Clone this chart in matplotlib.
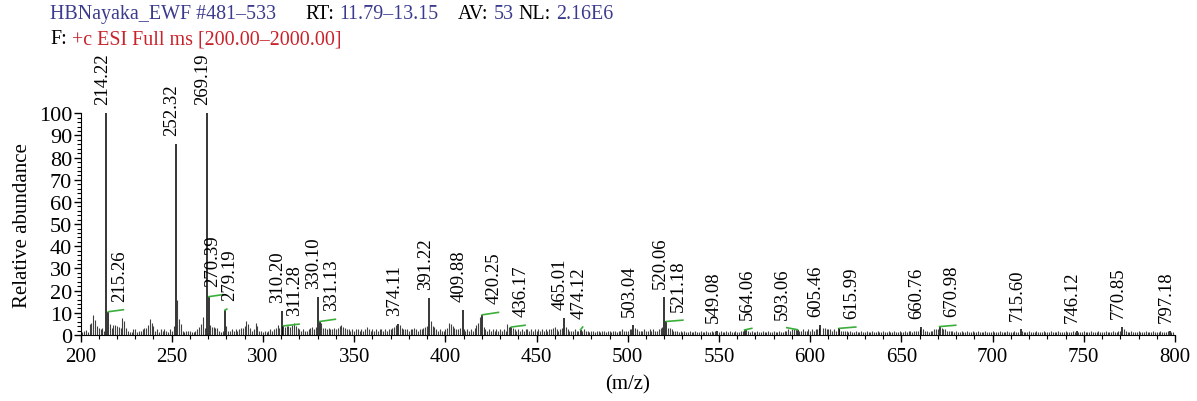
import numpy as np
import matplotlib
matplotlib.use('Agg')
import matplotlib.pyplot as plt
from matplotlib.ticker import MultipleLocator

plt.rcParams['font.family'] = ['Liberation Serif', 'DejaVu Serif']

# labelled peaks (m/z, relative abundance)
label_mz = [214.22, 215.26, 252.32, 269.19, 270.39, 279.19, 310.20, 311.28, 330.10, 331.13,
            374.11, 391.22, 409.88, 420.25, 436.17, 465.01, 474.12, 503.04, 520.06, 521.18,
            549.08, 564.06, 593.06, 605.46, 615.99, 660.76, 670.98, 715.60, 746.12, 770.85, 797.18]
label_int = [100, 10.5, 86, 100, 17.3, 11.2, 10.9, 4.1, 17.0, 6.1,
             4.9, 16.7, 11.2, 9.1, 3.6, 7.5, 2.4, 4.7, 17.0, 6.1,
             1.8, 2.3, 2.4, 4.5, 3.0, 3.8, 3.8, 2.6, 1.6, 3.6, 2.0]

# green leader lines: end point of the leader for labels that were moved (nan = none)
nan = np.nan
leader_mz = [nan, 223.5, nan, nan, 278.0, 280.2, nan, 319.8, nan, 339.7,
             nan, nan, nan, 429.1, 443.7, nan, 475.3, nan, nan, 530.2,
             nan, 568.0, 587.2, nan, 625.0, nan, 679.8, nan, nan, nan, nan]
leader_int = [nan, 11.4, nan, nan, 18.2, 11.7, nan, 4.9, nan, 7.1,
              nan, nan, nan, 10.2, 4.4, nan, 3.6, nan, nan, 6.7,
              nan, 3.0, 3.3, nan, 3.6, nan, 4.4, nan, nan, nan, nan]

# small unlabelled signals, one per m/z unit from 200 to 799
noise_start = 200
noise_int = [
    1.5, 1.2, 1.8, 2.2, 1.5, 5.0, 5.2, 9.0, 6.7, 4.0,
    3.3, 2.5, 3.0, 2.0, 0.0, 0.0, 4.9, 3.0, 4.5, 4.5,
    4.0, 3.5, 3.0, 7.5, 6.5, 3.0, 2.0, 1.5, 1.5, 2.5,
    2.5, 1.5, 2.0, 2.0, 2.5, 3.0, 3.0, 4.5, 7.0, 5.5,
    4.0, 2.0, 2.5, 1.5, 2.5, 2.0, 2.5, 2.0, 1.5, 2.5,
    2.0, 4.0, 0.0, 16.0, 7.0, 5.0, 2.0, 1.5, 2.0, 2.0,
    2.0, 1.5, 1.5, 2.0, 2.5, 3.5, 5.0, 8.0, 3.0, 0.0,
    0.0, 4.6, 3.5, 3.5, 3.0, 3.0, 2.0, 1.5, 2.0, 0.0,
    4.0, 2.0, 2.0, 2.5, 2.0, 2.5, 2.0, 2.5, 3.0, 3.0,
    4.0, 6.4, 5.0, 3.0, 2.0, 2.5, 5.6, 4.0, 2.0, 2.0,
    1.5, 2.0, 1.5, 2.0, 2.5, 2.0, 2.5, 3.0, 4.4, 3.0,
    0.0, 0.0, 3.5, 4.0, 4.0, 3.5, 4.5, 5.4, 4.0, 3.0,
    2.5, 2.0, 2.5, 2.0, 2.0, 2.5, 3.0, 3.5, 2.5, 3.5,
    0.0, 0.0, 5.6, 3.0, 3.0, 2.5, 3.0, 2.5, 2.5, 3.0,
    2.5, 3.0, 4.0, 4.3, 3.5, 3.0, 2.5, 2.5, 2.0, 2.5,
    2.0, 2.5, 2.5, 2.0, 2.5, 2.0, 2.5, 3.5, 2.5, 2.0,
    2.5, 2.0, 2.5, 2.0, 2.5, 2.5, 2.0, 2.5, 2.0, 2.5,
    2.5, 3.0, 3.7, 4.6, 0.0, 4.6, 3.0, 2.5, 2.5, 2.5,
    2.0, 2.5, 2.5, 3.0, 2.5, 2.0, 2.5, 2.5, 3.0, 3.5,
    4.0, 0.0, 6.5, 4.0, 3.5, 2.5, 2.0, 2.5, 2.0, 2.0,
    2.5, 3.0, 5.6, 4.8, 4.0, 3.0, 2.5, 2.5, 3.0, 0.0,
    2.5, 2.0, 2.5, 2.0, 2.5, 2.0, 3.0, 4.5, 5.6, 7.9,
    0.0, 3.5, 2.5, 2.0, 2.5, 2.0, 2.5, 2.0, 2.5, 2.0,
    2.5, 2.0, 2.5, 2.0, 4.8, 3.5, 0.0, 3.0, 2.5, 2.0,
    2.5, 2.0, 2.5, 2.0, 2.5, 2.5, 2.0, 2.5, 2.0, 2.5,
    2.0, 2.5, 2.0, 2.5, 2.0, 2.5, 2.0, 2.5, 2.5, 3.0,
    3.5, 2.5, 2.0, 2.5, 3.0, 0.0, 3.5, 2.5, 2.0, 2.0,
    2.0, 2.5, 2.0, 2.0, 0.0, 2.0, 2.5, 2.0, 2.0, 1.5,
    2.0, 2.0, 1.5, 2.0, 2.0, 1.5, 2.0, 2.0, 1.5, 2.0,
    2.0, 1.5, 2.0, 2.0, 1.5, 2.0, 2.0, 2.5, 2.0, 2.0,
    2.0, 2.5, 2.5, 0.0, 3.0, 2.5, 2.0, 2.0, 2.0, 2.5,
    2.0, 2.0, 2.5, 2.0, 2.5, 2.0, 2.0, 2.5, 3.0, 3.5,
    0.0, 0.0, 3.0, 3.0, 2.5, 2.0, 2.0, 2.0, 1.5, 2.0,
    1.5, 2.0, 1.5, 1.5, 2.0, 1.5, 1.5, 2.0, 1.5, 1.5,
    2.0, 1.5, 1.5, 2.0, 1.5, 1.5, 2.0, 1.5, 2.0, 0.0,
    1.5, 2.0, 1.5, 1.5, 2.0, 1.5, 2.0, 1.5, 1.5, 2.0,
    1.5, 1.5, 2.0, 2.0, 0.0, 2.5, 2.0, 1.5, 2.0, 1.5,
    1.5, 2.0, 1.5, 1.5, 2.0, 1.5, 1.5, 2.0, 1.5, 1.5,
    2.0, 1.5, 1.5, 2.0, 1.5, 1.5, 2.0, 2.0, 2.5, 2.0,
    2.5, 2.5, 2.5, 0.0, 2.0, 2.0, 2.5, 2.0, 2.0, 2.5,
    2.0, 2.5, 2.0, 2.5, 2.5, 3.0, 0.0, 3.0, 3.0, 2.5,
    2.5, 2.5, 2.0, 2.5, 2.0, 0.0, 2.5, 2.0, 2.0, 2.0,
    2.0, 1.5, 2.0, 1.5, 1.5, 2.0, 1.5, 1.5, 2.0, 1.5,
    1.5, 2.0, 1.5, 1.5, 2.0, 1.5, 1.5, 2.0, 1.5, 1.5,
    2.0, 1.5, 1.5, 2.0, 1.5, 1.5, 2.0, 1.5, 1.5, 2.0,
    1.5, 1.5, 2.0, 1.5, 2.0, 2.0, 1.5, 2.0, 2.0, 2.0,
    2.5, 0.0, 2.5, 2.0, 2.0, 1.5, 2.0, 2.0, 2.5, 2.5,
    2.5, 0.0, 3.0, 2.5, 2.5, 2.0, 2.0, 2.0, 2.0, 1.5,
    2.0, 1.5, 1.5, 2.0, 1.5, 1.5, 2.0, 1.5, 1.5, 2.0,
    1.5, 1.5, 2.0, 1.5, 1.5, 1.5, 2.0, 1.5, 1.5, 1.5,
    2.0, 1.5, 1.5, 1.5, 2.0, 1.5, 1.5, 1.5, 2.0, 1.5,
    1.5, 1.5, 2.0, 1.5, 1.5, 0.0, 2.0, 1.5, 1.5, 1.5,
    2.0, 1.5, 1.5, 1.5, 2.0, 1.5, 1.5, 1.5, 2.0, 1.5,
    1.5, 1.5, 2.0, 1.5, 1.5, 1.5, 2.0, 1.5, 1.5, 1.5,
    2.0, 1.5, 1.5, 1.5, 2.0, 1.5, 0.0, 1.5, 1.5, 1.5,
    2.0, 1.5, 1.5, 1.5, 2.0, 1.5, 1.5, 1.5, 2.0, 1.5,
    1.5, 1.5, 2.0, 1.5, 1.5, 1.5, 2.0, 1.5, 1.5, 2.0,
    2.0, 0.0, 2.5, 2.0, 1.5, 1.5, 2.0, 1.5, 1.5, 1.5,
    2.0, 1.5, 1.5, 1.5, 2.0, 1.5, 1.5, 1.5, 2.0, 1.5,
    1.5, 1.5, 2.0, 1.5, 1.5, 1.5, 2.0, 0.0, 1.5, 1.5,
]
noise_mz = np.arange(noise_start, noise_start + len(noise_int))

blue = '#3b3b8e'
red = '#c8232c'
green = '#3cae3c'

# sideways nudges (pixels) for two crowded labels
nudge_px = {270.39: -6, 279.19: 7}

fig = plt.figure(figsize=(11.97, 4.02), dpi=100)
ax = fig.add_axes([80.5 / 1197, 1 - 336 / 402, (1175 - 80.5) / 1197, (336 - 114.3) / 402])

ax.vlines(noise_mz, 0, noise_int, color='#404040', lw=0.8)
ax.vlines(label_mz, 0, label_int, color='black', lw=1.1)

for mz, h, lm, lh in zip(label_mz, label_int, leader_mz, leader_int):
    if np.isnan(lm):
        ax_x, ax_y = mz, h
    else:
        ax.plot([mz, lm], [h, lh], color=green, lw=1.2)
        ax_x, ax_y = lm, lh
    dx = (-4 + nudge_px.get(mz, 0)) * 0.72
    ax.annotate('%.2f' % mz, xy=(ax_x, ax_y), xytext=(dx, 6.5), textcoords='offset points',
                rotation=90, ha='center', va='bottom', fontsize=13.5, annotation_clip=False)

ax.set_xlim(200, 800)
ax.set_ylim(0, 100)
ax.spines['top'].set_visible(False)
ax.spines['right'].set_visible(False)
ax.xaxis.set_major_locator(MultipleLocator(50))
ax.xaxis.set_minor_locator(MultipleLocator(10))
ax.yaxis.set_major_locator(MultipleLocator(10))
ax.yaxis.set_minor_locator(MultipleLocator(2))
ax.tick_params(which='major', length=5, width=1, labelsize=15)
ax.tick_params(axis='y', which='major', pad=1, labelsize=16)
ax.tick_params(which='minor', length=3, width=0.8)
ax.set_xlabel('(m/z)', fontsize=15, labelpad=6)
ax.set_ylabel('Relative abundance', fontsize=15, labelpad=5)

# header lines, pieces chained one after another
renderer = fig.canvas.get_renderer()


def header(x, y, parts, gap=5):
    for s, c in parts:
        t = fig.text(x / 1197, 1 - y / 402, s, color=c, fontsize=14.4, ha='left', va='baseline')
        x += t.get_window_extent(renderer=renderer).width + gap


header(50, 19, [('HBNayaka_EWF #481\u2013533', blue)])
header(305, 19, [('RT:', 'black'), ('11.79\u201313.15', blue)])
header(458, 19, [('AV:', 'black'), ('53', blue), ('NL:', 'black'), ('2.16E6', blue)])
header(50, 44, [('F:', 'black'), ('+c ESI Full ms [200.00\u20132000.00]', red)])

fig.savefig('out.png', dpi=100)
